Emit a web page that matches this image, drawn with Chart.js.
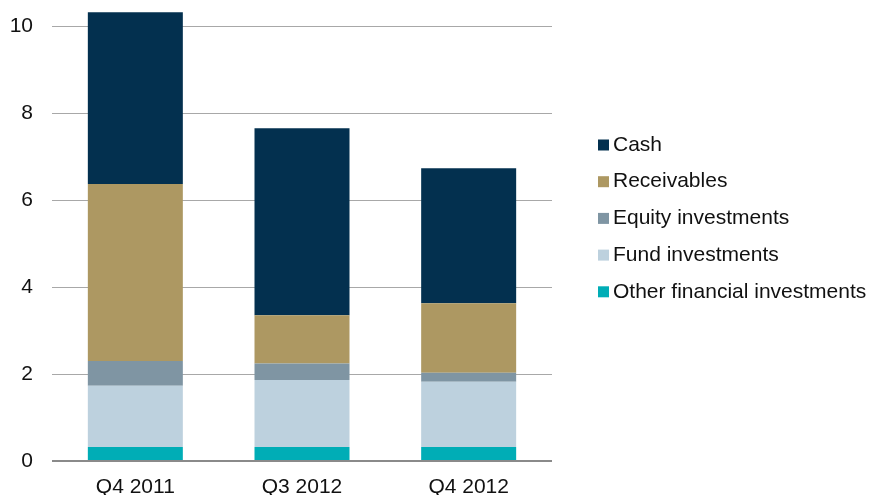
<!DOCTYPE html>
<html>
<head>
<meta charset="utf-8">
<script src="https://cdn.jsdelivr.net/npm/chart.js@4"></script>
<style>
  html, body { margin: 0; padding: 0; background: #fff; }
  #wrap { width: 872px; height: 495px; position: relative; }
</style>
</head>
<body>
<div id="wrap"><canvas id="assetChart"></canvas></div>
<script>
// Chart data
const quarters = ['Q4 2011', 'Q3 2012', 'Q4 2012'];
const otherFinancial = [0.32, 0.32, 0.32];
const fundInvestments = [1.41, 1.54, 1.50];
const equityInvestments = [0.57, 0.38, 0.21];
const receivables = [4.07, 1.11, 1.60];
const cash = [3.95, 4.30, 3.10];
const yTicks = [0, 2, 4, 6, 8, 10];

const seriesNames = ['Other financial investments', 'Fund investments', 'Equity investments', 'Receivables', 'Cash'];
const seriesColors = ['#00adb6', '#bdd1de', '#7f95a3', '#ad9862', '#03304f'];
const seriesValues = [otherFinancial, fundInvestments, equityInvestments, receivables, cash];

const FONT = 'Liberation Sans, Arial, sans-serif';

// Legend drawn by hand so it sits where the original one does
const sideLegend = {
    id: 'sideLegend',
    afterDraw(chart) {
        const ctx = chart.ctx;
        const sets = chart.data.datasets.slice().reverse();
        ctx.save();
        ctx.font = '21px ' + FONT;
        ctx.textBaseline = 'middle';
        ctx.textAlign = 'left';
        sets.forEach((ds, i) => {
            const y = 145 + i * 36.7;
            ctx.fillStyle = ds.backgroundColor;
            ctx.fillRect(598, y - 5.5, 11, 11);
            ctx.fillStyle = '#111';
            ctx.fillText(ds.label, 613, y);
        });
        ctx.restore();
    }
};

const ctx = document.getElementById('assetChart').getContext('2d');
new Chart(ctx, {
    type: 'bar',
    data: {
        labels: quarters,
        datasets: seriesNames.map((name, i) => ({
            label: name,
            data: seriesValues[i],
            backgroundColor: seriesColors[i],
            borderWidth: 0,
            barPercentage: 0.57,
            categoryPercentage: 1
        }))
    },
    options: {
        responsive: true,
        maintainAspectRatio: false,
        animation: false,
        layout: { padding: { left: 10, right: 320, top: 0, bottom: 0 } },
        plugins: {
            legend: { display: false },
            tooltip: { enabled: false }
        },
        scales: {
            x: {
                stacked: true,
                grid: { display: false, drawTicks: false },
                border: { display: false },
                afterFit: s => { s.height = 34; },
                ticks: {
                    color: '#111',
                    padding: 16,
                    font: { family: FONT, size: 21, lineHeight: 1 }
                }
            },
            y: {
                stacked: true,
                min: 0,
                max: 10.6,
                afterBuildTicks: axis => {
                    axis.ticks = yTicks.map(v => ({ value: v }));
                },
                afterFit: s => {
                    s.width = 42;
                    s.paddingTop = 0;
                    s.paddingBottom = 0;
                },
                grid: {
                    drawTicks: false,
                    color: c => (c.tick && c.tick.value === 0 ? '#8a8a8a' : '#a8a8a8'),
                    lineWidth: c => (c.tick && c.tick.value === 0 ? 2 : 1)
                },
                border: { display: false },
                ticks: {
                    color: '#111',
                    padding: 19,
                    font: { family: FONT, size: 21 }
                }
            }
        }
    },
    plugins: [sideLegend]
});
</script>
</body>
</html>
